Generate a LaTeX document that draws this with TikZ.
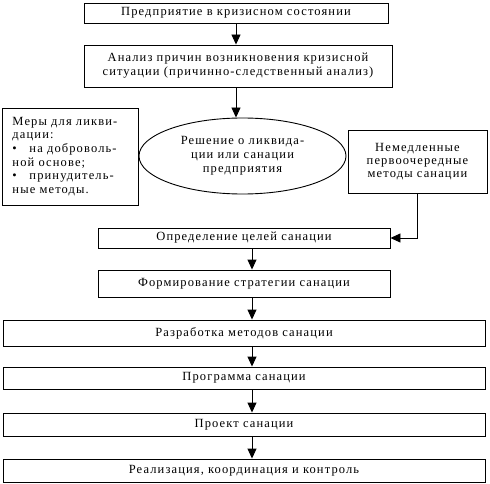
\documentclass[tikz,border=0pt]{standalone}
\usepackage{fontspec}
\setmainfont{Liberation Serif}[LetterSpace=9]
\usetikzlibrary{arrows.meta,shapes.geometric}
\begin{document}
\begin{tikzpicture}[x=1pt,y=-1pt,
  fnt/.style={font=\fontsize{12.5}{14}\selectfont},
  box/.style={draw, line width=0.9pt, rectangle, inner sep=0pt, align=center, fnt},
  ell/.style={draw, line width=0.9pt, ellipse, inner sep=0pt, align=center, fnt},
  arr/.style={line width=0.9pt, -{Triangle[width=9pt,length=10pt]}}]
\useasboundingbox (0,0) rectangle (490,484);
\node[box, minimum width=304pt, minimum height=20pt] (b1) at (236,13) {Предприятие в кризисном состоянии};
\node[box, minimum width=308pt, minimum height=42pt] (b2) at (238,66) {Анализ причин возникновения кризисной\\ситуации (причинно-следственный анализ)};
\node[ell, minimum width=207pt, minimum height=76pt] (el) at (242.5,156) {Решение о ликвида-\\ции или санации\\предприятия};
\node[box, minimum width=136pt, minimum height=97pt, text width=115pt, align=left,
      font=\fontsize{12.5}{13.6}\selectfont] (lb) at (70,156.5)
 {\makebox[115pt][s]{Меры для ликви-}\\
  дации:\\
  \makebox[115pt][s]{\makebox[17pt][l]{•}на доброволь-}\\
  ной основе;\\
  \makebox[17pt][l]{•}принудитель-\\
  ные методы.};
\node[box, minimum width=139pt, minimum height=63pt, font=\fontsize{12.5}{13}\selectfont] (rb) at (417.5,161.5)
 {Немедленные\\первоочередные\\методы санации};
\node[box, minimum width=292pt, minimum height=20pt] (b3) at (244,238) {Определение целей санации};
\node[box, minimum width=292pt, minimum height=27pt] (b4) at (244,283.5) {Формирование стратегии санации};
\node[box, minimum width=482pt, minimum height=26pt] (b5) at (244,333) {Разработка методов санации};
\node[box, minimum width=482pt, minimum height=22pt] (b6) at (244,378) {Программа санации};
\node[box, minimum width=482pt, minimum height=23pt] (b7) at (244,424.5) {Проект санации};
\node[box, minimum width=482pt, minimum height=23pt] (b8) at (244,470.5) {Реализация, координация и контроль};
\coordinate (ax1) at (236,0);
\coordinate (ax2) at (252,0);
\draw[arr] (b1.south -| ax1) -- (b2.north -| ax1);
\draw[arr] (b2.south -| ax1) -- (el.north -| ax1);
\draw[arr] (rb.south) |- (b3.east);
\draw[arr] (b3.south -| ax2) -- (b4.north -| ax2);
\draw[arr] (b4.south -| ax2) -- (b5.north -| ax2);
\draw[arr] (b5.south -| ax2) -- (b6.north -| ax2);
\draw[arr] (b6.south -| ax2) -- (b7.north -| ax2);
\draw[arr] (b7.south -| ax2) -- (b8.north -| ax2);
\end{tikzpicture}
\end{document}
